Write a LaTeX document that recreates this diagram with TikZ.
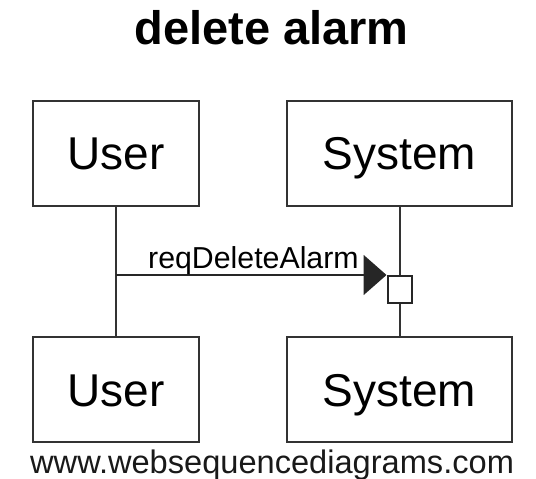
\documentclass[tikz,border=0pt]{standalone}
\usepackage{fontspec}
\setmainfont{Liberation Sans}
\usetikzlibrary{arrows.meta}
\begin{document}
\begin{tikzpicture}[x=1pt,y=-1pt,
  actorbox/.style={draw=black!80, line width=2pt, fill=white, minimum width=166pt, minimum height=105pt, inner sep=0pt, text height=33pt, text depth=0pt, font=\fontsize{46}{50}\selectfont},
  sysbox/.style={actorbox, minimum width=225pt},
  lifeline/.style={draw=black!80, line width=2pt},
  actbox/.style={draw=black!85, line width=2pt, fill=white, minimum width=24pt, minimum height=27pt, inner sep=0pt},
  msg/.style={draw=black!85, line width=2pt, -{Triangle[length=23pt,width=40pt]}},
  msglabel/.style={font=\fontsize{30.3}{33}\selectfont, inner sep=0pt, anchor=base west}]
\useasboundingbox (0,0) rectangle (536,479);
% title
\node[font=\fontsize{47}{52}\selectfont\bfseries, inner sep=0pt, anchor=base] (title) at (271.5,45) {delete alarm};
% actor boxes
\node[actorbox] (ut) at (116,153) {User};
\node[actorbox] (ub) at (116,389.5) {User};
\node[sysbox] (st) at (399.5,153) {System};
\node[sysbox] (sb) at (399.5,389.5) {System};
% lifelines
\draw[lifeline] (ut.south) -- (ub.north);
\draw[lifeline] (st.south) -- (sb.north);
% activation
\node[actbox] (act) at (399.5,289.5) {};
% message
\coordinate (m1) at (116,275);
\draw[msg] (m1) -- (m1 -| act.west);
\node[msglabel] (lbl) at (148,268) {reqDeleteAlarm};
% footer
\node[font=\fontsize{32.6}{36}\selectfont, text=black!90, inner sep=0pt, anchor=base west] (footer) at (30,473) {www.websequencediagrams.com};
\end{tikzpicture}
\end{document}
